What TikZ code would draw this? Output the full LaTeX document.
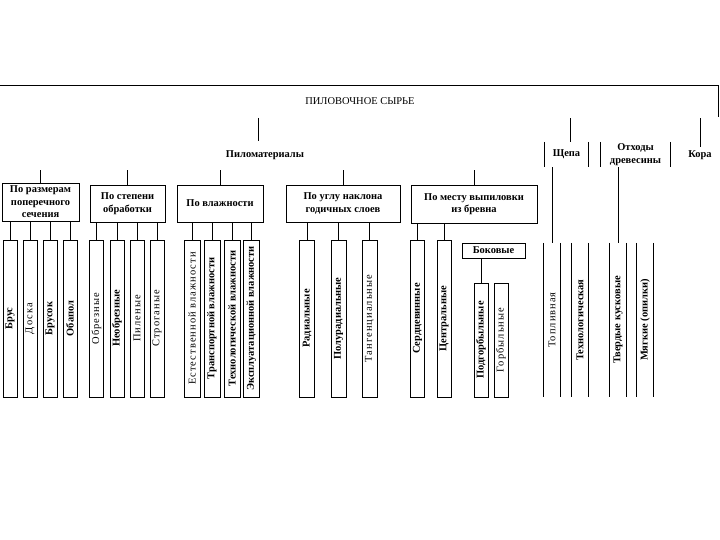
\documentclass[tikz,border=0pt]{standalone}
\usepackage{fontspec}
\setmainfont{Liberation Serif}
\usetikzlibrary{positioning}

\begin{document}
\begin{tikzpicture}[x=1bp, y=-1bp,
  txt/.style={font=\fontsize{10.5}{12.5}\selectfont},
  hdr/.style={draw, line width=0.8pt, align=center, inner sep=1pt,
              font=\fontsize{10.5}{12.5}\selectfont\bfseries},
  leaf/.style={draw, line width=0.8pt, minimum width=14bp,
               minimum height=157bp, inner sep=0pt},
  bare/.style={minimum width=16bp, minimum height=154bp, inner sep=0pt},
  vb/.style={rotate=90, font=\fontsize{10.5}{12}\selectfont\bfseries},
  vr/.style={rotate=90, font=\fontsize{10.5}{12}\selectfont\addfontfeature{LetterSpace=10}},
  wire/.style={line width=0.8pt}
]
\useasboundingbox (0,0) rectangle (720,540);

% top bracket and title
\coordinate (brL) at (0,85);
\coordinate (brR) at (718,85);
\coordinate (brE) at (718,117);
\draw[wire] (brL) -- (brR) -- (brE);
\node[txt] (raw) at (360,101) {ПИЛОВОЧНОЕ СЫРЬЕ};

\coordinate (top) at (0,118);
\node[txt, font=\fontsize{10.5}{12.5}\selectfont\bfseries] (lumber) at (265,155) {Пиломатериалы};
\node[txt, font=\fontsize{10.5}{12.5}\selectfont\bfseries, align=center,
      minimum width=43bp, minimum height=25bp, inner sep=0pt] (chips) at (566.5,154.5) {Щепа};
\node[txt, font=\fontsize{10.5}{12.5}\selectfont\bfseries, align=center,
      minimum width=69bp, minimum height=25bp, inner sep=0pt] (waste) at (635.5,154.5) {Отходы\\древесины};
\node[txt, font=\fontsize{10.5}{12.5}\selectfont\bfseries] (bark) at (700,155) {Кора};
\draw[wire] (258,118) -- (258,141);
\draw[wire] (chips.north -| 570,0) -- (570,118);
\draw[wire] (bark.north) -- (bark.north |- top);
\foreach \n in {chips,waste}
  \draw[wire] (\n.north west) -- (\n.south west) (\n.north east) -- (\n.south east);

% sawn timber classes
\coordinate (bus) at (0,170);
\node[hdr, minimum width=77bp, minimum height=38bp] (size) at (40.5,202) {По размерам\\поперечного\\сечения};
\node[hdr, minimum width=75bp, minimum height=37bp] (proc) at (127.5,203.5) {По степени\\обработки};
\node[hdr, minimum width=86bp, minimum height=37bp] (moist) at (220,203.5) {По влажности};
\node[hdr, minimum width=114bp, minimum height=37bp] (angle) at (343,203.5) {По углу наклона\\годичных слоев};
\node[hdr, minimum width=126bp, minimum height=38bp] (place) at (474,204) {По месту выпиловки\\из бревна};
\foreach \n in {size,proc,moist,angle,place}
  \draw[wire] (\n.north) -- (\n.north |- bus);

% leaves
\foreach \n/\x/\w/\t/\f/\p in {
    brus/10/14/Брус/vb/size, doska/30/14/Доска/vr/size,
    brusok/50/14/Брусок/vb/size, obapol/70/14/Обапол/vb/size,
    obrez/96.5/14/Обрезные/vr/proc, neobrez/117/14/Необрезные/vb/proc,
    pilen/137/14/Пиленые/vr/proc, strog/157/14/Строганые/vr/proc,
    estv/192/16/Естественной влажности/vr/moist,
    transp/212/16/Транспортной влажности/vb/moist,
    techn/232/16/Технологической влажности/vb/moist,
    expl/251.5/16/Эксплуатационной влажности/vb/moist,
    rad/307/15/Радиальные/vb/angle, polurad/338.5/15/Полурадиальные/vb/angle,
    tang/369.5/15/Тангенциальные/vr/angle,
    serd/417.5/14/Сердцевинные/vb/place, centr/444/14/Центральные/vb/place} {
  \node[leaf, minimum width=\w bp, label={[\f]center:\t}] (\n) at (\x,318.5) {};
  \draw[wire] (\n.north) -- (\n.north |- \p.south);
}

% side boards
\node[hdr, minimum width=63bp, minimum height=15bp] (side) at (493.5,250.5) {Боковые};
\foreach \n/\x/\t/\f in {podgorb/481/Подгорбыльные/vb, gorb/501/Горбыльные/vr}
  \node[leaf, minimum height=114bp, label={[\f]center:\t}] (\n) at (\x,340) {};
\draw[wire] (podgorb.north) -- (podgorb.north |- side.south);

% chips and waste
\foreach \n/\x/\t/\f in {fuel/552/Топливная/vr, tech/580/Технологическая/vb,
    lump/618/Твердые кусковые/vb, soft/645/Мягкие (опилки)/vb} {
  \node[bare, label={[\f]center:\t}] (\n) at (\x,320) {};
  \draw[wire] (\n.north west) -- (\n.south west) (\n.north east) -- (\n.south east);
}
\draw[wire] (fuel.north) -- (fuel.north |- chips.south);
\draw[wire] (lump.north) -- (lump.north |- waste.south);
\end{tikzpicture}
\end{document}
